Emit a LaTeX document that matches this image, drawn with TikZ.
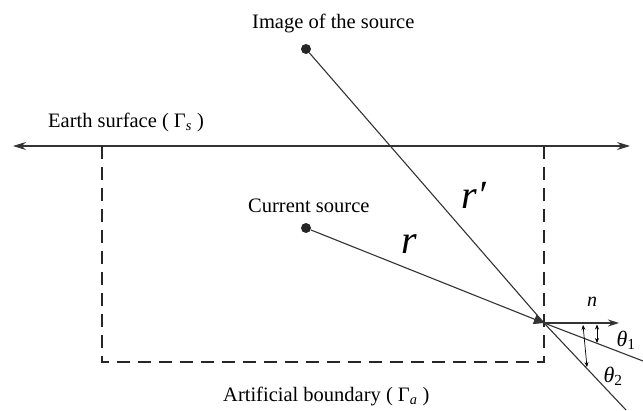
\documentclass[tikz,border=0pt]{standalone}
\usepackage{fontspec}
\setmainfont{Liberation Serif}
\usetikzlibrary{arrows.meta}
\begin{document}
\begin{tikzpicture}[x=1pt,y=-1pt,
  lbl/.style={font=\fontsize{20.5}{24}\selectfont, inner sep=0pt, anchor=base west},
  dotn/.style={circle, fill=black!85, minimum size=10pt, inner sep=0pt},
  ln/.style={line width=1.1pt, draw=black!80},
  dsh/.style={line width=1.4pt, draw=black!85, dash pattern=on 13pt off 8pt},
  big/.style={font=\fontsize{40}{44}\selectfont\itshape, inner sep=0pt},
  sm/.style={font=\fontsize{20}{22}\selectfont\itshape, inner sep=0pt},
  thl/.style={font=\fontsize{22}{24}\selectfont\itshape, inner sep=0pt},
  tiparrow/.style={line width=0.7pt, {Stealth[length=5pt,width=4pt]}-{Stealth[length=5pt,width=4pt]}}
]
\useasboundingbox (0,0) rectangle (643,410);
\fill[white] (0,0) rectangle (643,410);
% points
\coordinate (P) at (544,323);
\node[dotn] (img) at (306,49) {};
\node[dotn] (src) at (306,228) {};
\coordinate (SL) at (13,146);
\coordinate (SR) at (630,146);
\coordinate (TL) at (102,146);
\coordinate (BL) at (102,362);
\coordinate (BR) at (544,362);
\coordinate (TR) at (544,146);
\coordinate (T1) at (643,361);
\coordinate (T2) at (626,410);
\coordinate (N) at (619,323);
\coordinate (A1) at (597,324.5);
\coordinate (B1) at (597,343);
\coordinate (A2) at (583,325);
\coordinate (B2) at (587,367);
% earth surface
\draw[ln, {Stealth[length=13pt,width=8pt]}-{Stealth[length=13pt,width=8pt]}] (SL) -- (SR);
% artificial boundary
\draw[dsh] (TL) -- (BL) -- (BR) -- (TR);
% rays
\draw[ln] (img) -- (P);
\draw[ln, -{Triangle[length=10pt,width=10pt]}] (src) -- (P);
\draw[ln] (P) -- (T1);
\draw[ln] (P) -- (T2);
\draw[ln, line width=1.3pt, -{Stealth[length=11pt,width=7pt]}] (P) -- (N);
\draw[tiparrow] (A1) -- (B1);
\draw[tiparrow] (A2) -- (B2);
% labels
\node[lbl] (timg) at (252,28) {Image of the source};
\node[lbl] (tearth) at (48,127) {Earth surface ( Γ\textsubscript{\textit{s}} )};
\node[lbl] (tcur) at (248,212) {Current source};
\node[lbl] (tart) at (223,401) {Artificial boundary ( Γ\textsubscript{\textit{a}} )};
\node[big] (lr) at (409,244) {r};
\node[big] (lrp) at (474,195) {r′};
\node[sm] (ln) at (592,302) {n};
\node[thl] (th1) at (626,340) {θ\textsubscript{\upshape 1}};
\node[thl] (th2) at (613,376) {θ\textsubscript{\upshape 2}};
\end{tikzpicture}
\end{document}
